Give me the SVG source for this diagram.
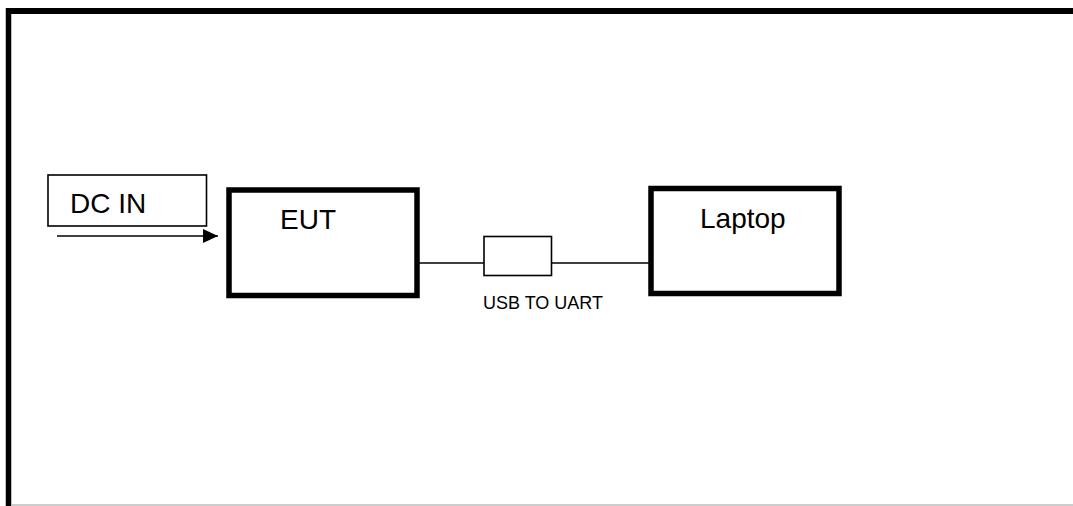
<svg xmlns="http://www.w3.org/2000/svg" width="1073" height="506" viewBox="0 0 1073 506">
  <defs>
    <style>
      .label { font-family: "Liberation Sans", Arial, sans-serif; fill: #000; }
      .big { font-size: 28px; }
      .small { font-size: 18px; }
      .block { fill: #fff; stroke: #000; stroke-width: 5.5; }
      .thin { fill: #fff; stroke: #000; stroke-width: 1.6; }
      .wire { fill: none; stroke: #000; stroke-width: 1.6; }
    </style>
    <marker id="arrowHead" markerWidth="15" markerHeight="14" refX="15" refY="7" orient="auto" markerUnits="userSpaceOnUse">
      <polygon points="0,0 15,7 0,14" fill="#000"/>
    </marker>
  </defs>

  <rect x="0" y="0" width="1073" height="506" fill="#fff"/>

  <!-- page frame -->
  <g id="frame">
    <line x1="6" y1="11" x2="1073" y2="11" stroke="#000" stroke-width="6"/>
    <line x1="8.5" y1="8" x2="8.5" y2="506" stroke="#000" stroke-width="5.5"/>
    <line x1="11" y1="505" x2="1073" y2="505" stroke="#bdbdbd" stroke-width="1.5"/>
  </g>

  <!-- connectors -->
  <g id="connectors">
    <line class="wire" x1="57" y1="236" x2="218" y2="236" stroke-width="2" marker-end="url(#arrowHead)"/>
    <line class="wire" x1="417" y1="263" x2="484" y2="263"/>
    <line class="wire" x1="551.5" y1="263" x2="651" y2="263"/>
  </g>

  <g id="dc-in">
    <rect class="thin" x="48" y="175" width="158.5" height="51"/>
    <text class="label big" x="70" y="213">DC IN</text>
  </g>

  <g id="eut">
    <rect class="block" x="229" y="190" width="188" height="105.5"/>
    <text class="label big" x="280" y="229">EUT</text>
  </g>

  <g id="usb-uart">
    <rect class="thin" x="484" y="236.5" width="67.5" height="39"/>
    <text class="label small" x="483" y="309">USB TO UART</text>
  </g>

  <g id="laptop">
    <rect class="block" x="651" y="188.5" width="188" height="105" stroke-width="4.8"/>
    <text class="label big" x="700" y="228">Laptop</text>
  </g>
</svg>
